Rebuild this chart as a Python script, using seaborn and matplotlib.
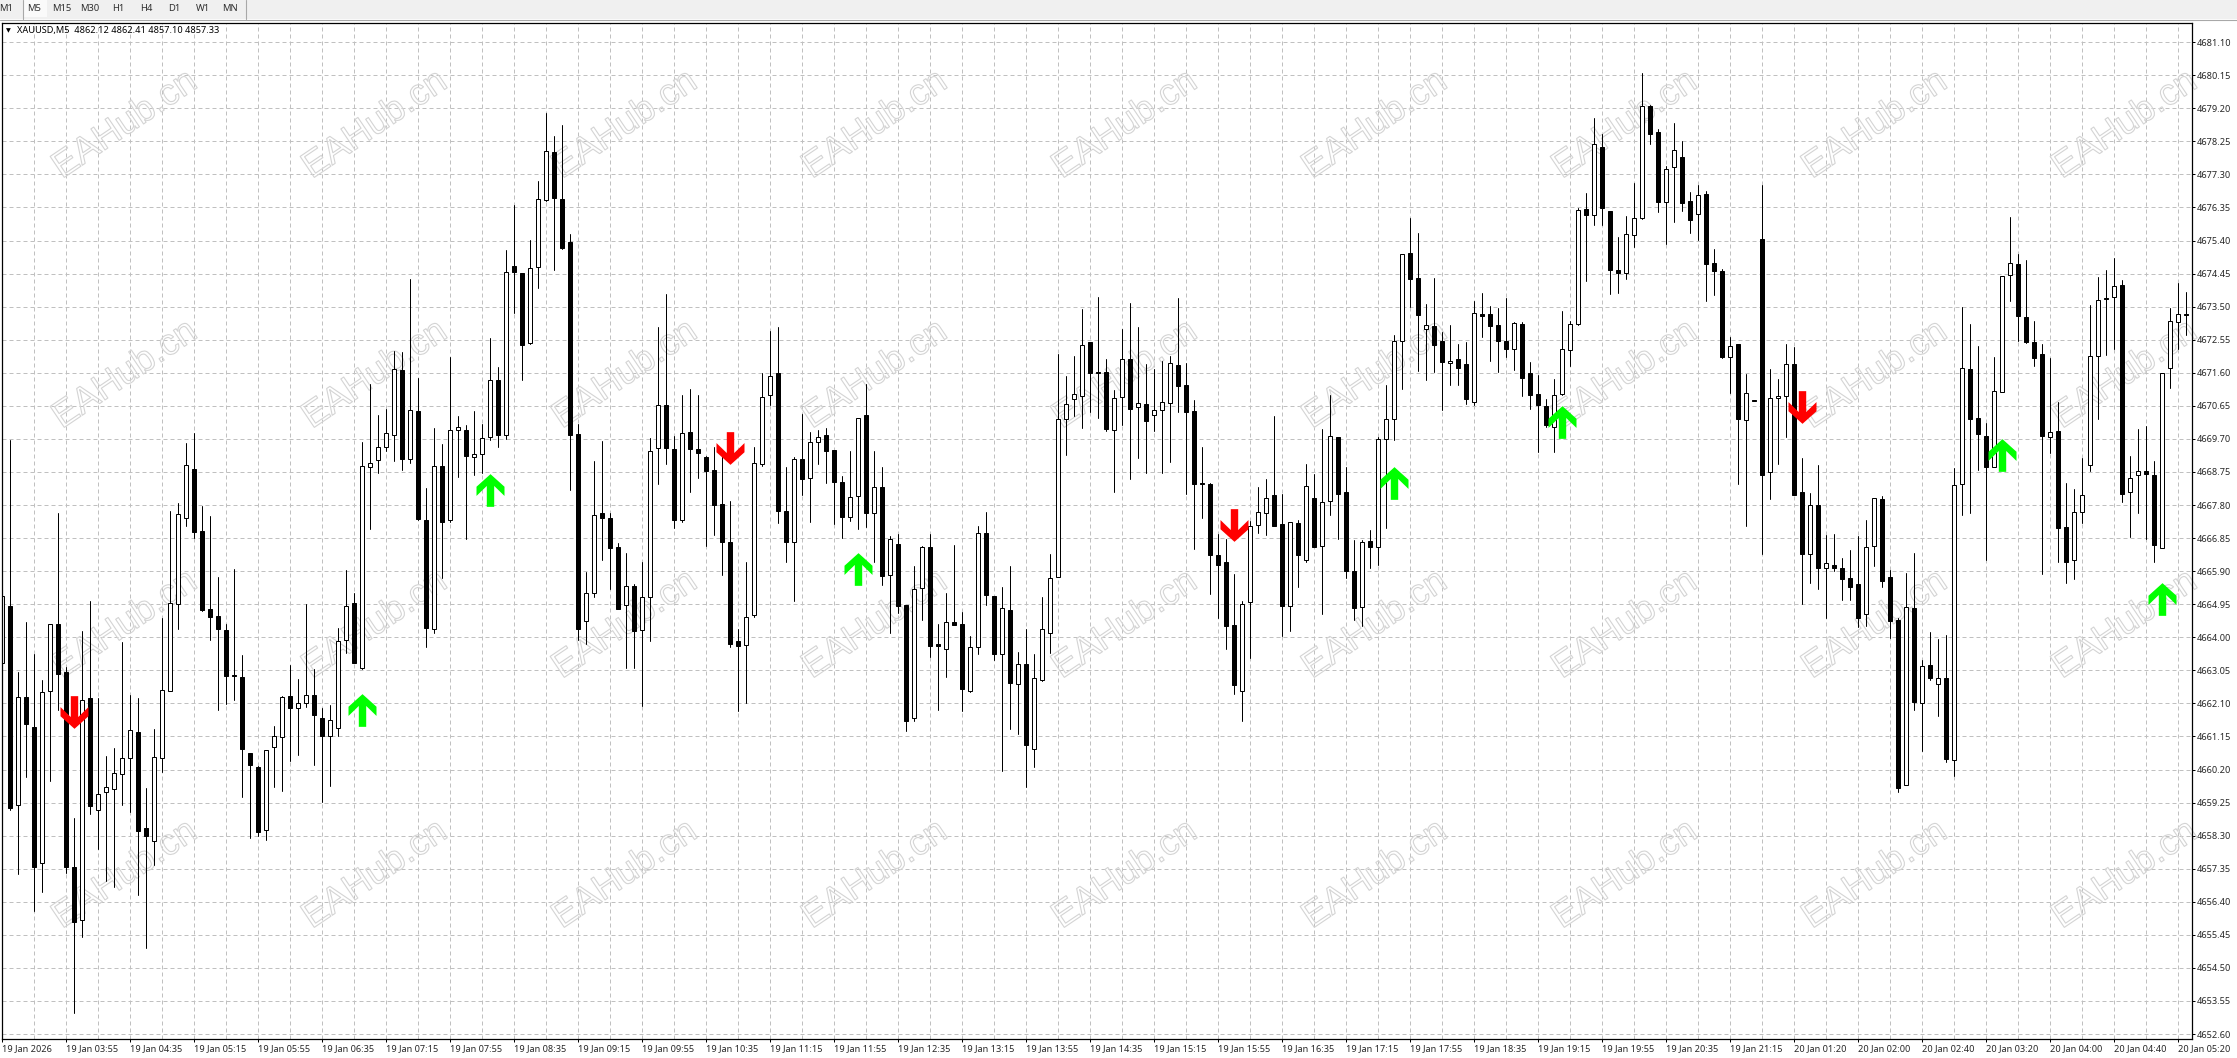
import numpy as np
import pandas as pd
import matplotlib
matplotlib.use("Agg")
import matplotlib.pyplot as plt
import matplotlib.patheffects as pe
from matplotlib.path import Path
from matplotlib.patches import Rectangle
from matplotlib.lines import Line2D
import seaborn as sns

W, H = 2237, 1058

# u = close above open (hollow), d = close below open (solid)
candle_dirs = "".join([
    "ududduuddd", "uduuuuuddu", "uuuudddddd", "ddduuuduud", "duuuduuuuu",
    "dudduduudu", "uududduuud", "ddduudddud", "uuuddudddd", "ddduuuuddu",
    "duuddduudu", "dudduuddud", "duuddududu", "uuuuuudddu", "ududuuuddd",
    "ddddduuuud", "dududuuddd", "uduuuuddud", "dudduddddu", "dddduuuudu",
    "ddduuudduu", "ddudddudud", "duuuddudud", "ddduudddud", "ududuudddu",
    "uudddduddu", "uuududuudd", "uuud",
])

highs = [
    4667.86, 4669.67, 4663.01, 4664.43, 4663.52, 4662.77, 4664.37, 4667.58, 4663.15, 4658.81,
    4664.19, 4665.03, 4662.25, 4660.59, 4660.82, 4663.85, 4662.35, 4662.25, 4659.67, 4661.35,
    4664.56, 4667.62, 4667.86, 4669.58, 4669.86, 4667.76, 4667.48, 4665.72, 4664.38, 4665.95,
    4663.48, 4660.67, 4660.29, 4660.75, 4661.45, 4662.31, 4663.20, 4662.79, 4664.95, 4663.08,
    4661.96, 4662.05, 4664.28, 4665.92, 4665.26, 4669.61, 4671.28, 4670.39, 4670.56, 4672.22,
    4672.21, 4674.28, 4671.45, 4668.29, 4670.00, 4669.55, 4672.05, 4670.36, 4670.09, 4670.50,
    4670.12, 4672.59, 4671.76, 4675.14, 4676.43, 4674.47, 4675.41, 4677.12, 4679.05, 4678.41,
    4678.71, 4675.59, 4670.12, 4665.88, 4669.07, 4669.65, 4667.57, 4666.70, 4666.42, 4665.52,
    4666.15, 4669.73, 4672.92, 4673.86, 4669.78, 4670.95, 4671.12, 4670.95, 4669.21, 4669.48,
    4669.29, 4667.92, 4664.23, 4666.15, 4669.46, 4671.58, 4672.80, 4672.91, 4668.89, 4669.18,
    4670.41, 4669.89, 4669.96, 4670.02, 4669.38, 4668.64, 4669.35, 4670.30, 4671.28, 4669.35,
    4668.89, 4666.92, 4666.97, 4664.92, 4666.05, 4666.61, 4666.96, 4664.38, 4665.28, 4666.65,
    4664.74, 4664.04, 4667.20, 4667.59, 4665.19, 4665.43, 4666.05, 4663.59, 4664.23, 4663.51,
    4665.15, 4666.39, 4672.14, 4671.51, 4672.08, 4673.44, 4672.48, 4673.78, 4671.99, 4671.10,
    4672.85, 4673.60, 4672.91, 4671.85, 4671.70, 4671.94, 4672.08, 4673.74, 4671.87, 4670.82,
    4669.46, 4668.42, 4666.96, 4666.82, 4665.81, 4665.03, 4667.34, 4668.31, 4668.55, 4670.36,
    4668.12, 4667.30, 4667.37, 4668.97, 4668.70, 4669.98, 4670.96, 4669.76, 4668.88, 4666.80,
    4666.80, 4667.08, 4669.74, 4671.25, 4672.69, 4675.01, 4676.06, 4675.61, 4673.57, 4674.31,
    4672.78, 4672.97, 4672.42, 4672.48, 4673.66, 4673.88, 4673.52, 4673.45, 4673.74, 4673.07,
    4673.05, 4671.90, 4671.54, 4670.84, 4671.41, 4673.37, 4673.09, 4676.33, 4676.76, 4678.91,
    4678.46, 4676.25, 4675.49, 4676.10, 4677.05, 4680.21, 4679.30, 4678.60, 4677.54, 4678.77,
    4678.26, 4676.79, 4676.99, 4676.83, 4675.16, 4674.57, 4672.63, 4672.43, 4671.57, 4670.83,
    4676.99, 4671.70, 4671.41, 4672.42, 4672.34, 4669.15, 4668.14, 4668.94, 4666.94, 4666.96,
    4666.29, 4666.51, 4666.91, 4667.37, 4667.99, 4668.05, 4665.93, 4664.55, 4665.85, 4666.42,
    4663.35, 4664.15, 4663.94, 4664.07, 4668.87, 4673.49, 4672.99, 4672.37, 4670.15, 4672.05,
    4674.38, 4676.08, 4675.01, 4674.84, 4673.08, 4672.42, 4672.02, 4670.75, 4668.43, 4668.26,
    4669.16, 4673.54, 4674.35, 4674.55, 4674.89, 4674.26, 4669.22, 4669.99, 4670.07, 4669.07,
    4671.59, 4673.47, 4674.18, 4673.92,
]

body_tops = [
    4665.18, 4664.91, 4662.27, 4662.27, 4661.41, 4662.42, 4664.37, 4664.37, 4662.99, 4657.39,
    4662.21, 4662.25, 4659.51, 4659.69, 4660.11, 4660.52, 4661.33, 4661.27, 4658.51, 4660.55,
    4662.48, 4664.98, 4667.53, 4668.94, 4668.83, 4667.05, 4664.80, 4664.60, 4664.22, 4662.92,
    4662.87, 4660.67, 4660.26, 4660.75, 4661.15, 4662.28, 4662.31, 4662.10, 4662.35, 4662.33,
    4661.67, 4661.61, 4663.90, 4664.89, 4664.97, 4668.91, 4669.02, 4669.46, 4669.88, 4671.70,
    4671.68, 4670.53, 4670.50, 4667.36, 4668.91, 4668.91, 4669.95, 4670.03, 4669.95, 4669.28,
    4669.72, 4671.38, 4671.38, 4674.49, 4674.67, 4674.46, 4674.60, 4676.58, 4677.96, 4677.94,
    4676.59, 4675.35, 4669.83, 4665.26, 4667.50, 4667.56, 4667.44, 4666.59, 4665.46, 4665.46,
    4665.17, 4669.34, 4670.67, 4670.67, 4669.40, 4669.86, 4669.89, 4669.42, 4669.17, 4668.80,
    4667.82, 4666.73, 4663.89, 4664.57, 4669.00, 4670.89, 4671.52, 4671.58, 4667.62, 4669.12,
    4669.12, 4669.60, 4669.76, 4669.80, 4669.37, 4668.45, 4668.02, 4670.30, 4670.38, 4668.31,
    4668.31, 4666.82, 4666.67, 4664.92, 4665.40, 4666.58, 4666.59, 4663.80, 4664.43, 4664.43,
    4664.37, 4663.71, 4666.99, 4667.01, 4665.19, 4664.84, 4664.77, 4663.22, 4663.22, 4662.82,
    4664.23, 4665.70, 4670.27, 4670.70, 4671.00, 4672.39, 4672.48, 4671.62, 4671.61, 4670.87,
    4671.99, 4671.99, 4670.73, 4670.70, 4670.52, 4670.75, 4671.87, 4671.82, 4671.24, 4670.49,
    4668.42, 4668.40, 4666.36, 4666.15, 4664.34, 4664.95, 4667.19, 4667.59, 4667.99, 4668.08,
    4667.25, 4667.30, 4667.28, 4668.34, 4667.99, 4667.88, 4669.78, 4669.75, 4668.17, 4665.90,
    4666.73, 4666.76, 4669.69, 4670.26, 4672.51, 4675.01, 4675.03, 4674.31, 4672.97, 4672.94,
    4672.51, 4671.95, 4671.99, 4671.84, 4673.31, 4673.28, 4673.28, 4672.97, 4672.52, 4673.02,
    4672.99, 4671.59, 4670.98, 4670.65, 4670.95, 4672.28, 4672.99, 4676.27, 4676.30, 4678.17,
    4678.08, 4676.24, 4674.56, 4675.58, 4676.04, 4679.26, 4679.26, 4678.52, 4677.45, 4678.00,
    4677.79, 4676.53, 4676.70, 4676.73, 4674.75, 4674.52, 4672.38, 4672.42, 4671.01, 4670.83,
    4675.44, 4670.87, 4670.92, 4671.84, 4671.84, 4668.17, 4667.80, 4667.80, 4666.13, 4666.09,
    4665.98, 4665.69, 4665.52, 4666.58, 4667.99, 4667.97, 4665.73, 4664.49, 4664.87, 4664.83,
    4663.18, 4663.19, 4662.82, 4662.82, 4668.37, 4671.73, 4671.71, 4670.30, 4669.77, 4671.09,
    4674.38, 4674.75, 4674.72, 4673.20, 4672.48, 4672.14, 4669.91, 4669.92, 4667.16, 4667.59,
    4668.10, 4672.07, 4673.68, 4673.75, 4674.09, 4674.12, 4668.59, 4668.77, 4668.77, 4668.66,
    4671.58, 4673.08, 4673.29, 4673.29,
]

body_bottoms = [
    4663.25, 4659.10, 4659.17, 4661.52, 4657.41, 4657.51, 4662.45, 4662.93, 4657.41, 4655.81,
    4655.89, 4659.15, 4659.05, 4659.55, 4659.65, 4660.06, 4660.52, 4658.42, 4658.30, 4658.16,
    4660.52, 4662.45, 4664.95, 4667.44, 4667.03, 4664.77, 4664.57, 4664.25, 4662.90, 4662.90,
    4660.78, 4660.32, 4658.39, 4658.45, 4660.86, 4661.12, 4661.98, 4661.96, 4662.10, 4661.78,
    4661.15, 4661.17, 4661.38, 4663.93, 4663.25, 4663.13, 4668.88, 4669.10, 4669.46, 4669.80,
    4669.13, 4669.11, 4667.41, 4664.27, 4664.25, 4667.32, 4667.36, 4669.95, 4669.22, 4669.19,
    4669.26, 4669.76, 4669.82, 4669.80, 4674.50, 4672.41, 4672.46, 4674.63, 4676.57, 4676.61,
    4675.19, 4669.82, 4664.25, 4664.46, 4665.26, 4667.44, 4666.57, 4664.80, 4664.92, 4664.18,
    4664.20, 4665.15, 4669.44, 4669.45, 4667.38, 4667.36, 4669.42, 4669.29, 4668.77, 4667.79,
    4666.73, 4663.82, 4663.76, 4663.77, 4664.65, 4668.97, 4670.96, 4667.62, 4666.75, 4666.74,
    4668.56, 4668.57, 4669.61, 4669.36, 4668.47, 4667.46, 4667.45, 4668.05, 4667.56, 4667.57,
    4665.77, 4665.78, 4664.89, 4661.60, 4661.68, 4665.41, 4663.76, 4663.76, 4663.66, 4664.36,
    4662.50, 4662.47, 4663.71, 4665.20, 4663.53, 4663.53, 4662.70, 4662.67, 4660.89, 4660.78,
    4662.78, 4664.12, 4665.72, 4670.27, 4670.84, 4670.94, 4671.58, 4671.60, 4669.97, 4669.95,
    4670.89, 4670.57, 4670.63, 4670.22, 4670.38, 4670.52, 4670.72, 4671.23, 4670.48, 4668.41,
    4668.39, 4666.37, 4666.09, 4664.33, 4662.64, 4662.45, 4665.00, 4667.22, 4667.56, 4667.21,
    4664.89, 4664.89, 4666.37, 4666.21, 4666.60, 4666.61, 4667.91, 4668.13, 4665.91, 4664.85,
    4664.86, 4666.58, 4666.59, 4669.69, 4670.28, 4672.51, 4674.30, 4673.27, 4672.87, 4672.41,
    4671.92, 4671.87, 4671.75, 4670.86, 4670.77, 4673.24, 4672.95, 4672.50, 4672.29, 4672.28,
    4671.46, 4670.97, 4670.66, 4670.11, 4670.03, 4670.98, 4672.25, 4672.99, 4676.12, 4676.12,
    4676.32, 4674.56, 4674.48, 4674.48, 4675.55, 4676.04, 4678.47, 4676.52, 4676.50, 4677.50,
    4676.49, 4676.00, 4676.16, 4674.72, 4674.51, 4672.06, 4672.05, 4670.28, 4670.25, 4670.78,
    4668.65, 4668.76, 4670.87, 4670.92, 4668.10, 4666.38, 4666.38, 4666.00, 4665.98, 4665.98,
    4665.66, 4665.43, 4664.54, 4664.66, 4666.62, 4665.63, 4664.48, 4659.66, 4659.75, 4662.15,
    4662.12, 4662.84, 4662.67, 4660.51, 4660.47, 4668.40, 4670.26, 4669.83, 4668.88, 4668.88,
    4671.04, 4674.41, 4673.22, 4672.47, 4672.01, 4669.77, 4669.75, 4667.13, 4666.15, 4666.22,
    4667.61, 4668.94, 4672.07, 4673.71, 4673.77, 4668.13, 4668.17, 4668.66, 4668.68, 4666.66,
    4666.56, 4671.74, 4673.05, 4673.25,
]

lows = [
    4656.47, 4659.04, 4657.19, 4659.99, 4656.13, 4656.69, 4659.87, 4661.90, 4657.24, 4653.20,
    4655.39, 4658.91, 4657.92, 4657.01, 4656.83, 4659.18, 4658.98, 4656.59, 4655.08, 4657.47,
    4660.14, 4662.45, 4664.24, 4667.20, 4666.84, 4664.75, 4663.91, 4661.91, 4662.09, 4662.21,
    4659.41, 4658.24, 4658.28, 4658.18, 4659.70, 4659.58, 4660.44, 4660.62, 4661.99, 4660.33,
    4659.27, 4659.73, 4661.16, 4663.55, 4663.25, 4663.08, 4667.12, 4668.73, 4669.35, 4669.07,
    4668.81, 4669.02, 4667.36, 4663.72, 4664.11, 4665.69, 4667.31, 4668.61, 4666.81, 4668.65,
    4668.71, 4669.68, 4669.47, 4669.70, 4673.31, 4671.38, 4672.43, 4674.03, 4676.53, 4674.54,
    4675.15, 4668.24, 4663.91, 4663.81, 4665.15, 4666.21, 4665.40, 4664.80, 4663.12, 4663.12,
    4662.03, 4663.88, 4668.41, 4668.98, 4667.15, 4667.30, 4668.16, 4668.59, 4666.62, 4666.95,
    4665.80, 4663.73, 4661.87, 4662.12, 4664.57, 4668.93, 4670.68, 4667.27, 4666.17, 4665.05,
    4668.10, 4667.31, 4668.99, 4668.42, 4667.24, 4666.84, 4667.35, 4667.12, 4667.16, 4666.17,
    4665.51, 4664.11, 4664.70, 4661.32, 4661.58, 4664.51, 4663.44, 4661.92, 4662.87, 4664.36,
    4661.89, 4662.43, 4663.53, 4664.94, 4663.35, 4660.17, 4661.35, 4661.22, 4659.70, 4660.28,
    4662.75, 4663.56, 4665.72, 4669.24, 4670.35, 4670.00, 4670.46, 4670.31, 4669.94, 4668.18,
    4670.10, 4668.56, 4669.14, 4668.71, 4669.92, 4668.71, 4669.05, 4670.48, 4668.13, 4666.53,
    4667.44, 4665.23, 4664.56, 4663.65, 4662.38, 4661.58, 4663.39, 4667.01, 4666.94, 4667.21,
    4664.04, 4664.19, 4665.43, 4666.15, 4666.58, 4664.68, 4667.51, 4666.82, 4665.69, 4664.49,
    4664.33, 4666.00, 4666.08, 4667.15, 4669.67, 4671.12, 4673.48, 4671.65, 4671.40, 4671.61,
    4670.53, 4671.25, 4671.25, 4670.70, 4670.67, 4672.62, 4671.94, 4671.62, 4672.04, 4671.68,
    4670.94, 4670.57, 4669.31, 4670.05, 4669.31, 4670.96, 4671.80, 4672.97, 4674.25, 4675.85,
    4675.85, 4673.85, 4673.90, 4674.30, 4675.22, 4676.03, 4678.16, 4676.23, 4675.31, 4675.94,
    4676.26, 4675.63, 4675.42, 4673.67, 4673.84, 4672.01, 4671.03, 4668.39, 4667.21, 4670.78,
    4666.38, 4667.98, 4668.98, 4669.74, 4668.10, 4664.95, 4665.57, 4665.40, 4664.54, 4665.89,
    4665.06, 4665.08, 4664.30, 4664.32, 4666.06, 4665.43, 4663.99, 4659.54, 4659.75, 4661.91,
    4660.72, 4662.76, 4661.75, 4660.43, 4660.02, 4667.52, 4667.56, 4668.81, 4666.21, 4668.88,
    4671.04, 4673.65, 4672.50, 4672.46, 4671.79, 4665.83, 4669.30, 4666.15, 4665.57, 4665.68,
    4667.27, 4668.79, 4670.26, 4672.12, 4672.27, 4667.90, 4666.89, 4667.56, 4666.82, 4666.15,
    4666.56, 4671.17, 4672.27, 4672.68,
]

# signal arrows: candle they sit on and the price at the arrow's middle
buy_candles = [45, 61, 107, 174, 195, 250, 270]
buy_prices = [4661.91, 4668.24, 4665.96, 4668.44, 4670.19, 4669.25, 4665.10]
sell_candles = [9, 91, 154, 225]
sell_prices = [4661.86, 4669.44, 4667.22, 4670.61]

price_ticks = [4652.60 + 0.95 * i for i in range(31)]
time_labels = [
    "19 Jan 2026", "19 Jan 03:55", "19 Jan 04:35", "19 Jan 05:15", "19 Jan 05:55", "19 Jan 06:35",
    "19 Jan 07:15", "19 Jan 07:55", "19 Jan 08:35", "19 Jan 09:15", "19 Jan 09:55", "19 Jan 10:35",
    "19 Jan 11:15", "19 Jan 11:55", "19 Jan 12:35", "19 Jan 13:15", "19 Jan 13:55", "19 Jan 14:35",
    "19 Jan 15:15", "19 Jan 15:55", "19 Jan 16:35", "19 Jan 17:15", "19 Jan 17:55", "19 Jan 18:35",
    "19 Jan 19:15", "19 Jan 19:55", "19 Jan 20:35", "19 Jan 21:15", "20 Jan 01:20", "20 Jan 02:00",
    "20 Jan 02:40", "20 Jan 03:20", "20 Jan 04:00", "20 Jan 04:40", "20 Jan 05:20",
]
periods = ["M1", "M5", "M15", "M30", "H1", "H4", "D1", "W1", "MN"]
period_x = [6, 34, 62, 90, 118, 146, 174, 203, 230]

assert len(candle_dirs) == len(highs) == len(body_tops) == len(body_bottoms) == len(lows)

sns.set_style("white")
plt.rcParams["font.family"] = ["Noto Sans", "DejaVu Sans"]

idx = np.arange(len(highs))
wicks = pd.DataFrame({
    "candle": np.concatenate([idx, idx]),
    "price": highs + lows,
})
up = np.array([c == "u" for c in candle_dirs])
tops = np.array(body_tops)
bottoms = np.array(body_bottoms)

fig = plt.figure(figsize=(W / 100, H / 100), dpi=100, facecolor="white")
ax = fig.add_axes([1.5 / W, 1 - 1038.7 / H, 2190 / W, (1038.7 - 23) / H])


def px(x, y):
    return x / W, 1 - y / H


# grid first so it stays under the candles
ax.set_axisbelow(True)
ax.grid(True, which="both", color="#c0c0c0", lw=0.72, ls=(0, (4, 3)))

wick_df = wicks.assign(x=wicks["candle"])
sns.lineplot(data=wick_df, x="x", y="price", units="candle", estimator=None, sort=False,
             color="black", lw=0.72, legend=False, ax=ax, zorder=2)
ax.bar(idx[up], (tops - bottoms)[up], bottom=bottoms[up], width=0.5, color="white",
       edgecolor="black", lw=0.72, zorder=3)
ax.bar(idx[~up], (tops - bottoms)[~up], bottom=bottoms[~up], width=0.5, color="black",
       edgecolor="black", lw=0.72, zorder=3)

# arrow shapes, pixel proportions
up_arrow = Path([(0, 16.35), (14, 3.75), (14, -5.45), (3.7, 4.55), (3.7, -16.35), (-3.7, -16.35),
                 (-3.7, 4.55), (-14, -5.45), (-14, 3.75), (0, 16.35)], closed=True)
down_arrow = Path([(x, -y) for x, y in up_arrow.vertices], closed=True)
sns.scatterplot(x=np.array(buy_candles) - 0.1, y=buy_prices, marker=up_arrow, s=554,
                color="#00ff00", linewidth=0, legend=False, ax=ax, zorder=4)
sns.scatterplot(x=np.array(sell_candles) - 0.1, y=sell_prices, marker=down_arrow, s=554,
                color="#ff0000", linewidth=0, legend=False, ax=ax, zorder=4)

ax.set_xlim(-0.104, 273.65)
ax.set_ylim(4652.465, 4681.65)
ax.set_xlabel("")
ax.set_ylabel("")

ax.yaxis.tick_right()
ax.set_yticks(price_ticks)
ax.set_yticklabels([f"{p:.2f}" for p in price_ticks], fontsize=6.6)
ax.set_xticks(np.arange(0, 273, 8))
ax.set_xticklabels(time_labels, fontsize=6.6, ha="left")
ax.set_xticks(np.arange(4, 273, 8), minor=True)
ax.tick_params(axis="both", which="major", length=2.2, width=0.72, color="black", pad=1.5,
               bottom=True, right=True, left=False, labelsize=6.6)
ax.tick_params(axis="x", which="minor", length=0)
for sp in ax.spines.values():
    sp.set_color("black")
    sp.set_linewidth(0.9)
    sp.set_zorder(6)

# terminal chrome above the chart
fig.add_artist(Rectangle(px(0, 19), 1, 19 / H, transform=fig.transFigure, color="#f0f0f0", lw=0))
fig.add_artist(Rectangle(px(23, 17), 24 / W, 17 / H, transform=fig.transFigure, color="#fafafa", lw=0))
fig.add_artist(Line2D([0, 1], [1 - 19.5 / H] * 2, transform=fig.transFigure, color="#a8a8a8", lw=0.8))
for sep in [22.5, 245.5]:
    fig.add_artist(Line2D([sep / W] * 2, [1 - 19 / H, 1], transform=fig.transFigure, color="#a8a8a8", lw=0.8))
for name, x in zip(periods, period_x):
    fig.text(*px(x, 8.5), name, fontsize=6.8, ha="center", va="center", color="#303030")

fig.text(*px(6, 31), "\u25bc", fontsize=4.5, family="DejaVu Sans", va="center", color="black")
fig.text(*px(17, 31), "XAUUSD,M5  4862.12 4862.41 4857.10 4857.33", fontsize=6.6, va="center", color="black")

# site watermark, hollow letters sitting under the candles
for wy in [125, 375, 625, 875]:
    for wx in range(125, 2200, 250):
        ax.text(*px(wx, wy), "EAHub.cn", fontsize=26.5, family="Liberation Sans", rotation=34,
                ha="center", va="center", color="none", transform=fig.transFigure,
                path_effects=[pe.Stroke(linewidth=0.8, foreground="#d4d4d4", joinstyle="round")],
                zorder=1)

fig.savefig("out.png", dpi=100, facecolor="white")
